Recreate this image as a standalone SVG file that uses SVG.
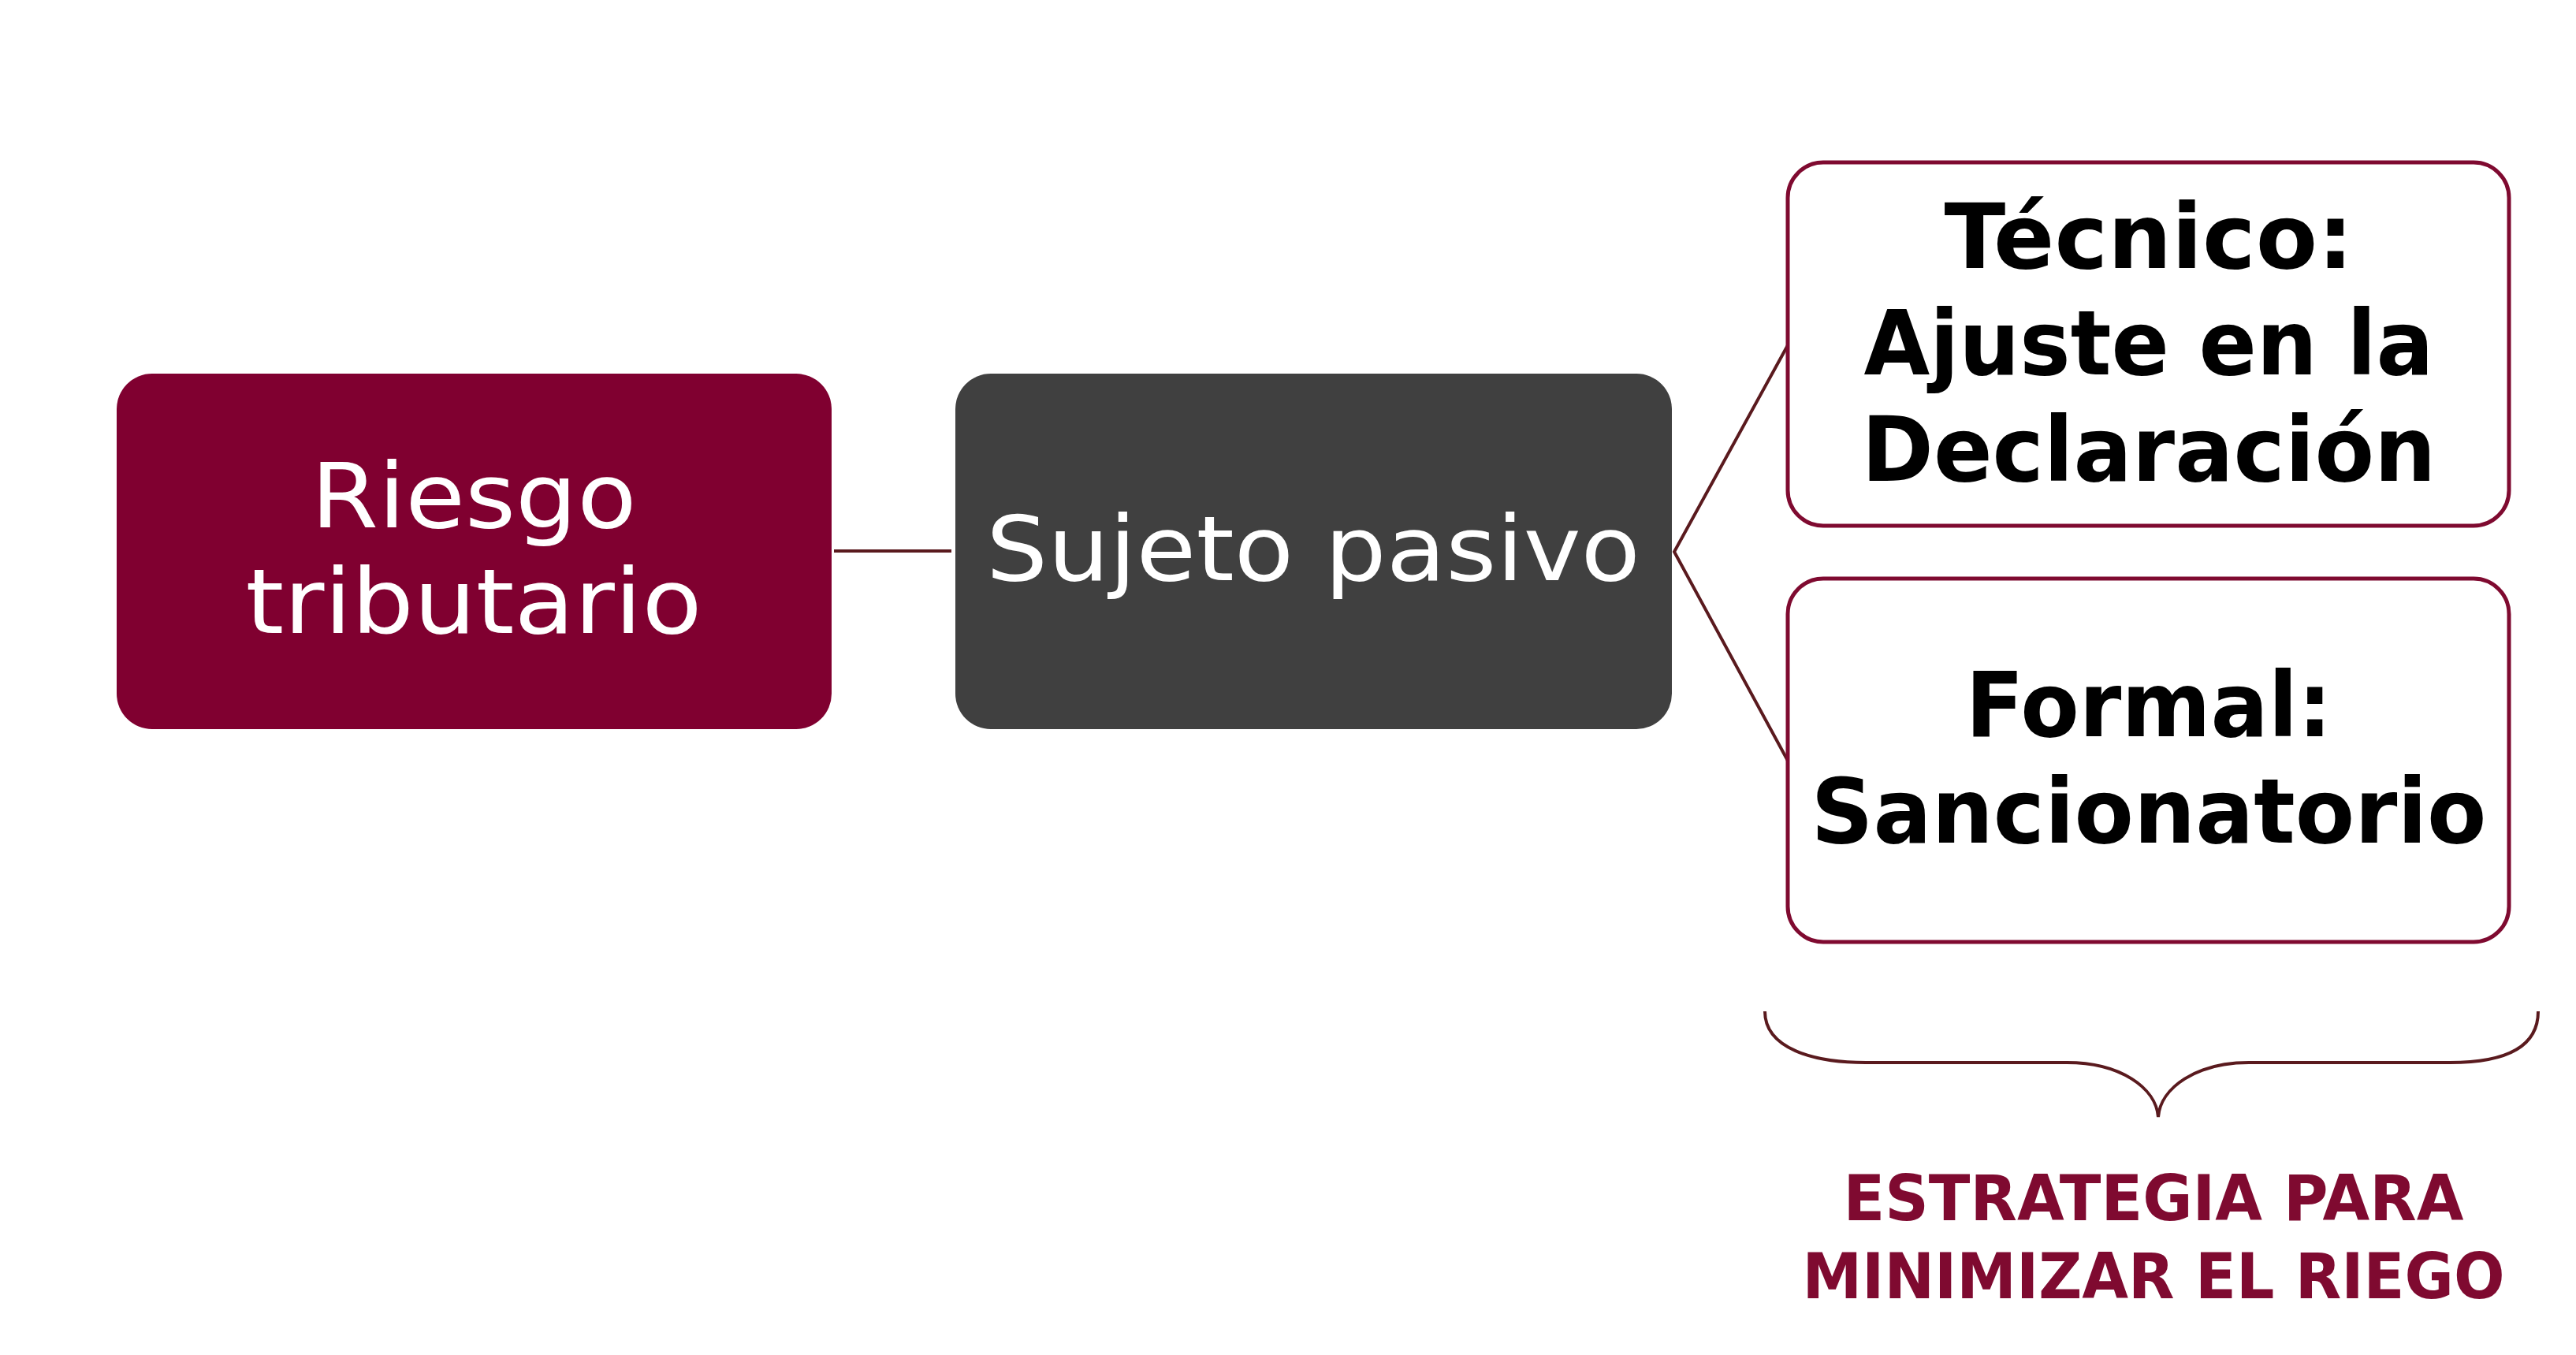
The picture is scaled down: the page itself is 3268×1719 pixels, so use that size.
<svg xmlns="http://www.w3.org/2000/svg" width="3268" height="1719" viewBox="0 0 3268 1719">
<style>
.t{font-family:"DejaVu Sans","Open Sans",sans-serif;text-anchor:middle;font-size:114px}
.w{fill:#ffffff;font-weight:400}
.k{fill:#000000;font-weight:700}
.lab{font-family:"DejaVu Sans","Open Sans",sans-serif;text-anchor:middle;font-size:80px;font-weight:700;fill:#7f0a30}
.con{fill:none;stroke:#5a1a1e;stroke-width:4}
.ob{fill:#ffffff;stroke:#7f0a30;stroke-width:5}
</style>
<rect width="3268" height="1719" fill="#ffffff"/>
<g id="connectors">
<line class="con" x1="1058" y1="699" x2="1207" y2="699" stroke-width="6"/>
<polyline class="con" points="2268,438 2124,700 2268,965"/>
</g>
<g id="riesgo">
<rect x="148" y="474" width="907" height="451" rx="45" fill="#800030"/>
<text class="t w" x="601" y="669" textLength="413" lengthAdjust="spacingAndGlyphs">Riesgo</text>
<text class="t w" x="601" y="803" textLength="579" lengthAdjust="spacingAndGlyphs">tributario</text>
</g>
<g id="sujeto">
<rect x="1212" y="474" width="909" height="451" rx="45" fill="#404040"/>
<text class="t w" x="1666" y="736" textLength="830" lengthAdjust="spacingAndGlyphs">Sujeto pasivo</text>
</g>
<g id="tecnico">
<rect class="ob" x="2268" y="206" width="915" height="461" rx="45"/>
<text class="t k" x="2726" y="340" textLength="519" lengthAdjust="spacingAndGlyphs">Técnico:</text>
<text class="t k" x="2726" y="475" textLength="723" lengthAdjust="spacingAndGlyphs">Ajuste en la</text>
<text class="t k" x="2726" y="610" textLength="729" lengthAdjust="spacingAndGlyphs">Declaración</text>
</g>
<g id="formal">
<rect class="ob" x="2268" y="734" width="915" height="461" rx="45"/>
<text class="t k" x="2726" y="934" textLength="465" lengthAdjust="spacingAndGlyphs">Formal:</text>
<text class="t k" x="2726" y="1069" textLength="857" lengthAdjust="spacingAndGlyphs">Sancionatorio</text>
</g>
<g id="estrategia">
<path class="con" stroke-width="5" d="M2239,1283 C2239,1330 2300,1348 2367,1348 L2622,1348 C2690,1348 2735,1380 2738,1417 C2741,1380 2786,1348 2853,1348 L3108,1348 C3175,1348 3220,1330 3220,1283"/>
<text class="lab" x="2732" y="1548" textLength="787" lengthAdjust="spacingAndGlyphs">ESTRATEGIA PARA</text>
<text class="lab" x="2732" y="1647" textLength="891" lengthAdjust="spacingAndGlyphs">MINIMIZAR EL RIEGO</text>
</g>
</svg>
